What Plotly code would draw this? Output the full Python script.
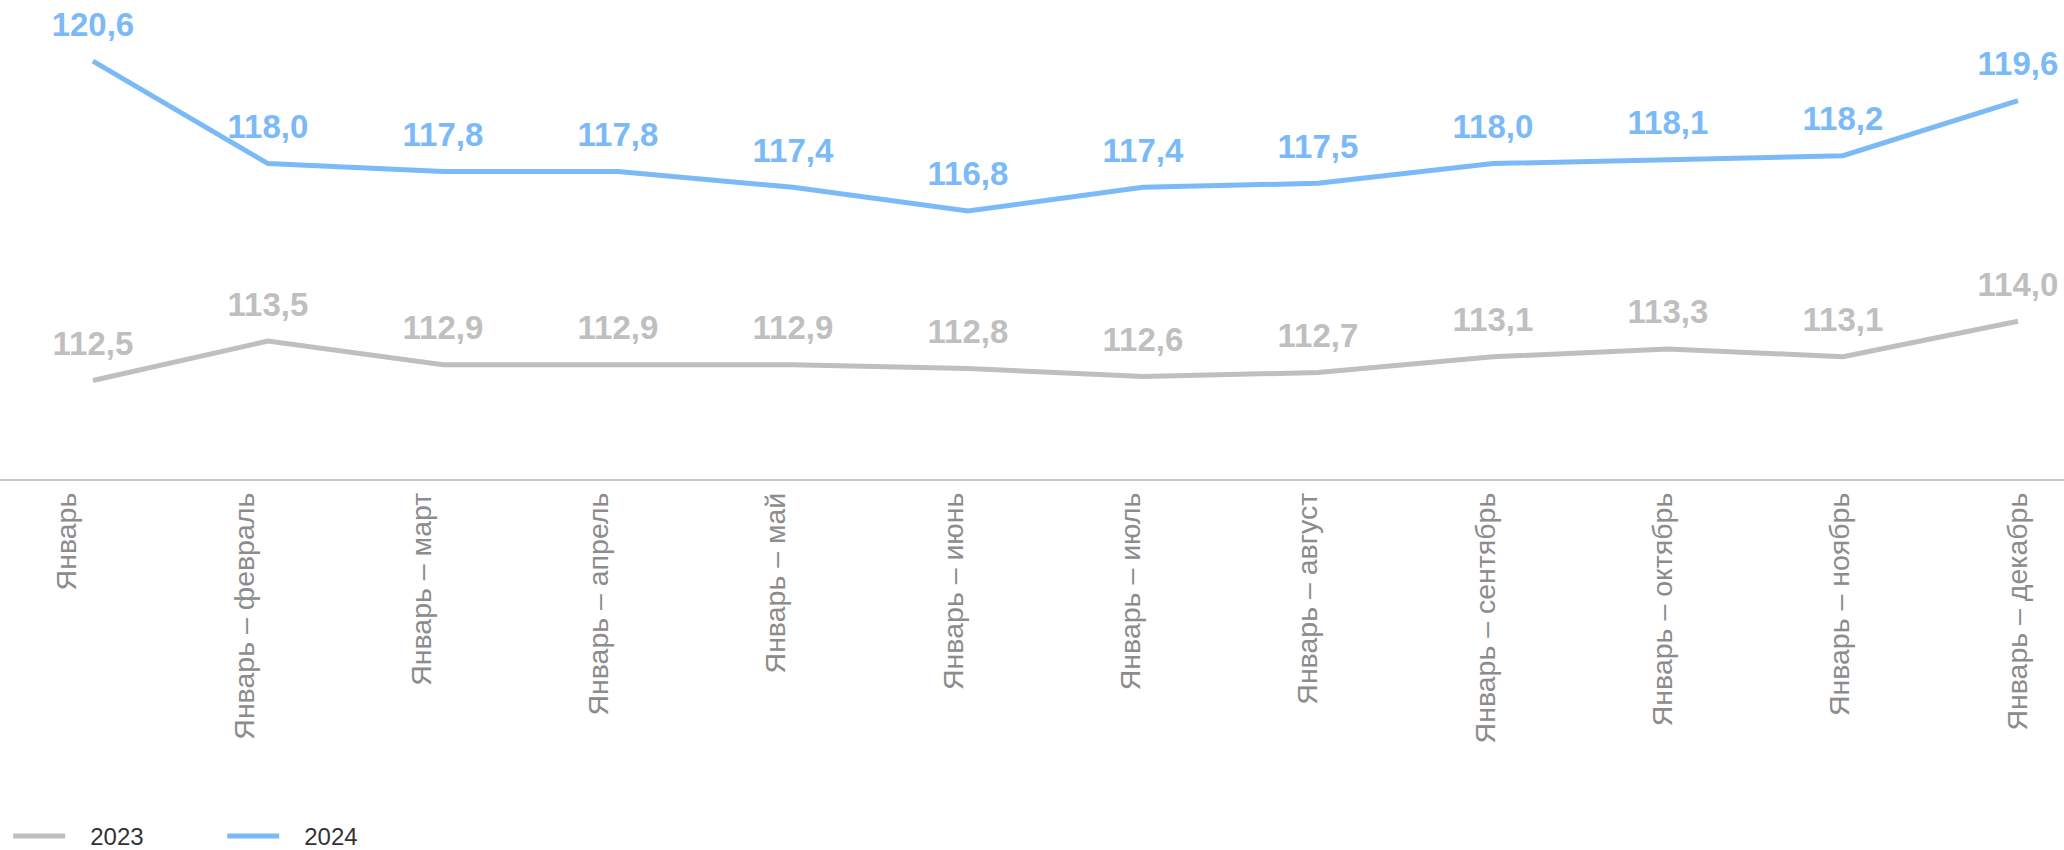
import plotly.graph_objects as go

categories = ["Январь", "Январь – февраль", "Январь – март", "Январь – апрель",
              "Январь – май", "Январь – июнь", "Январь – июль", "Январь – август",
              "Январь – сентябрь", "Январь – октябрь", "Январь – ноябрь", "Январь – декабрь"]
values_2023 = [112.5, 113.5, 112.9, 112.9, 112.9, 112.8, 112.6, 112.7, 113.1, 113.3, 113.1, 114.0]
values_2024 = [120.6, 118.0, 117.8, 117.8, 117.4, 116.8, 117.4, 117.5, 118.0, 118.1, 118.2, 119.6]
series_names = ["2023", "2024"]

GRAY = "#bfbfbf"
BLUE = "#7cbaf7"
FONT = "Liberation Sans, Arial, sans-serif"
PAD = "\u00a0\u00a0\u00a0"

x = list(range(len(categories)))

fig = go.Figure()
for name, vals, col in [(series_names[0], values_2023, GRAY), (series_names[1], values_2024, BLUE)]:
    fig.add_trace(go.Scatter(
        x=x, y=vals, name=PAD + name, mode="lines+markers+text",
        line=dict(color=col, width=5),
        marker=dict(size=26, color="rgba(0,0,0,0)", line=dict(width=0)),
        texttemplate="%{y:.1f}", textposition="top center",
        textfont=dict(color=col, size=33, family=FONT, weight="bold"),
        hoverinfo="skip", cliponaxis=False,
    ))

# invisible helper trace so the category label axis is drawn
fig.add_trace(go.Scatter(
    x=x, y=values_2023, xaxis="x2", yaxis="y", mode="lines",
    line=dict(width=0, color="rgba(0,0,0,0)"), showlegend=False, hoverinfo="skip",
))

fig.update_layout(
    width=2064, height=850,
    margin=dict(l=0, r=0, t=0, b=371, autoexpand=False),
    plot_bgcolor="white", paper_bgcolor="white",
    separators=", ",
    font=dict(family=FONT),
    showlegend=True,
    legend=dict(orientation="h", x=0.004, xanchor="left",
                yref="container", y=0.016, yanchor="middle",
                font=dict(size=24, color="#333333", family=FONT),
                itemwidth=52, entrywidth=147, entrywidthmode="pixels",
                traceorder="normal"),
    xaxis=dict(
        range=[-0.531, 11.263], automargin=False,
        showgrid=False, zeroline=False, showticklabels=False,
        showline=True, linecolor="#c8c8c8", linewidth=2, ticks="",
    ),
    xaxis2=dict(
        overlaying="x", anchor="y", side="bottom", automargin=False,
        tickmode="array", tickvals=x, ticktext=categories,
        range=[-0.378, 11.263], tickangle=-90,
        showgrid=False, zeroline=False, showline=False,
        ticks="", ticklabelstandoff=7,
        tickfont=dict(size=28.5, color="#8c8c8c", family=FONT),
    ),
    yaxis=dict(range=[110.0, 122.15], visible=False, showgrid=False, zeroline=False,
               automargin=False),
)

fig.write_html("out.html", config={"displayModeBar": False},
               post_script="document.body.style.margin='0';")
